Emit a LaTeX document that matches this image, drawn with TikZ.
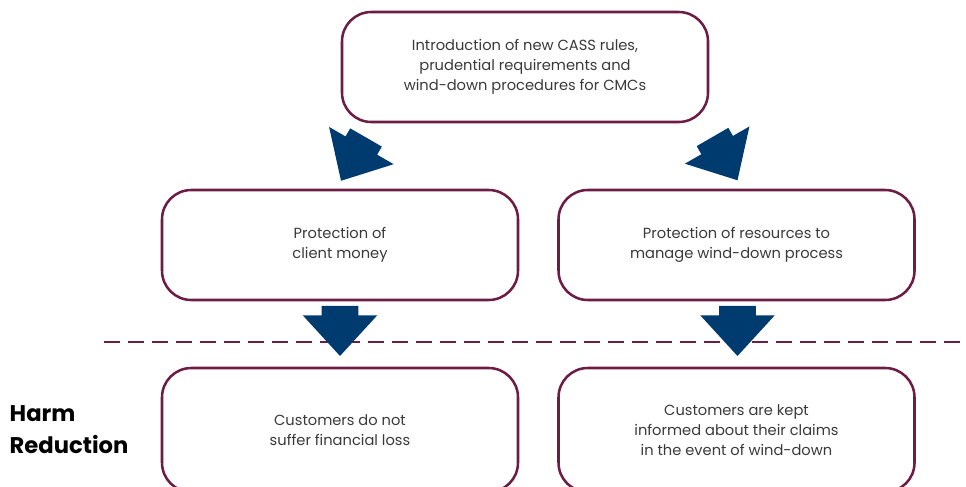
\documentclass[tikz,border=0pt]{standalone}
\usepackage{fontspec}
\setmainfont{Poppins}
\usetikzlibrary{shapes.arrows}

\definecolor{boxline}{HTML}{6C1D45}
\definecolor{arrowblue}{HTML}{003B6F}
\definecolor{boxtext}{HTML}{3A3A3A}

\begin{document}
\begin{tikzpicture}[x=0.75pt,y=-0.75pt]

\useasboundingbox (0,0) rectangle (966,486);
\clip (0,0) rectangle (966,486);

\begin{scope}[
    every node/.style={
        draw=boxline,
        line width=1.9pt,
        rounded corners=22pt,
        fill=white,
        align=center,
        text=boxtext,
        font=\fontsize{11}{15}\selectfont,
        minimum height=82.5pt}]

    \node[minimum width=274.5pt] (intro) at (525,67)
        {Introduction of new CASS rules,\\prudential requirements and\\wind-down procedures for CMCs};
    \node[minimum width=267pt] (clientmoney) at (340,245) {Protection of\\client money};
    \node[minimum width=267pt] (resources) at (736.5,245)
        {Protection of resources to\\manage wind-down process};
    \node[minimum width=267pt,minimum height=93pt] (noloss) at (340,430)
        {Customers do not\\suffer financial loss};
    \node[minimum width=267pt,minimum height=93pt] (informed) at (736.5,430)
        {Customers are kept\\informed about their claims\\in the event of wind-down};
\end{scope}


% harm line
\draw[boxline, line width=1.9pt, dash pattern=on 12pt off 6pt] (104,342) -- (966,342);

\node[anchor=west, align=left, font=\fontsize{17}{24}\selectfont\bfseries] (harm) at (5,430)
    {Harm\\Reduction};


\begin{scope}[
    every node/.style={
        single arrow,
        fill=arrowblue,
        inner xsep=0pt,
        inner ysep=13.5pt,
        minimum height=37.5pt,
        single arrow head extend=14.25pt,
        single arrow tip angle=85}]

    \node[rotate=240] (toclient) at (358.5,150.5) {};
    \node[rotate=-60] (toresources) at (720,150) {};
    \node[rotate=-90] (toloss) at (340,321) {};
    \node[rotate=-90] (toinformed) at (737.5,321) {};
\end{scope}
\end{tikzpicture}
\end{document}
